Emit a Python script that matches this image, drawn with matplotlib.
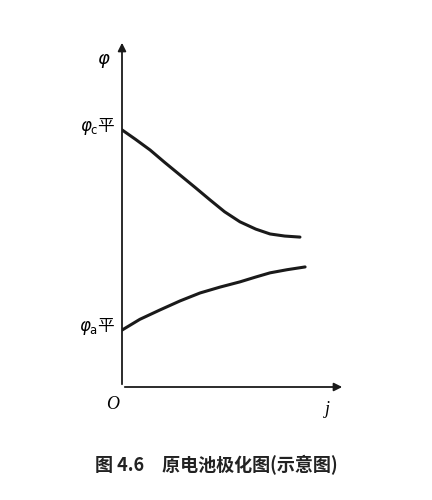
import numpy as np
import matplotlib
matplotlib.use('Agg')
from matplotlib import pyplot as plt

plt.rcParams['font.family'] = ['Noto Sans CJK SC', 'DejaVu Sans']

# cathode (upper) and anode (lower) polarization curves, relative units
j_c = [0, 0.06, 0.126, 0.19, 0.26, 0.33, 0.395, 0.46, 0.529, 0.6, 0.664, 0.73, 0.798]
phi_c = [0.741, 0.714, 0.683, 0.648, 0.611, 0.574, 0.539, 0.505, 0.476, 0.455, 0.441, 0.435, 0.432]
j_a = [0, 0.08, 0.170, 0.26, 0.350, 0.44, 0.529, 0.6, 0.664, 0.74, 0.821]
phi_a = [0.164, 0.195, 0.222, 0.248, 0.271, 0.288, 0.303, 0.317, 0.329, 0.338, 0.346]
phi_c_eq = 0.741
phi_a_eq = 0.164

fig = plt.figure(figsize=(4.32, 5), dpi=100)
ax = fig.add_axes([122/432, 113/500, 223/432, 347/500])
ax.set_xlim(0, 1)
ax.set_ylim(0, 1)
ax.plot(j_c, phi_c, color='#1a1a1a', lw=2.2, solid_capstyle='round')
ax.plot(j_a, phi_a, color='#1a1a1a', lw=2.2, solid_capstyle='round')
ax.annotate('', xy=(1, 0), xytext=(0, 0), annotation_clip=False,
            arrowprops=dict(arrowstyle='-|>', color='#1a1a1a', lw=1.3, mutation_scale=12))
ax.annotate('', xy=(0, 1), xytext=(0, 0), annotation_clip=False,
            arrowprops=dict(arrowstyle='-|>', color='#1a1a1a', lw=1.3, mutation_scale=12))
for s in ax.spines.values():
    s.set_visible(False)
ax.set_xticks([])
ax.set_yticks([])

ax.text(-0.03, phi_c_eq + 0.01, r'$\varphi_{\rm c}$平', ha='right', va='center', fontsize=12)
ax.text(-0.03, phi_a_eq + 0.01, r'$\varphi_{\rm a}$平', ha='right', va='center', fontsize=12)
ax.text(-0.08, 0.94, r'$\varphi$', ha='center', va='center', fontsize=13)
ax.text(-0.04, -0.05, 'O', ha='center', va='center', fontsize=13, style='italic', family='Liberation Serif')
ax.text(0.92, -0.065, 'j', ha='center', va='center', fontsize=13, style='italic', family='Liberation Serif')

fig.text(0.5, 0.07, '图 4.6　原电池极化图(示意图)', ha='center', va='center',
         fontsize=13, fontweight='bold', color='#222222')
fig.savefig('out.png', dpi=100)
